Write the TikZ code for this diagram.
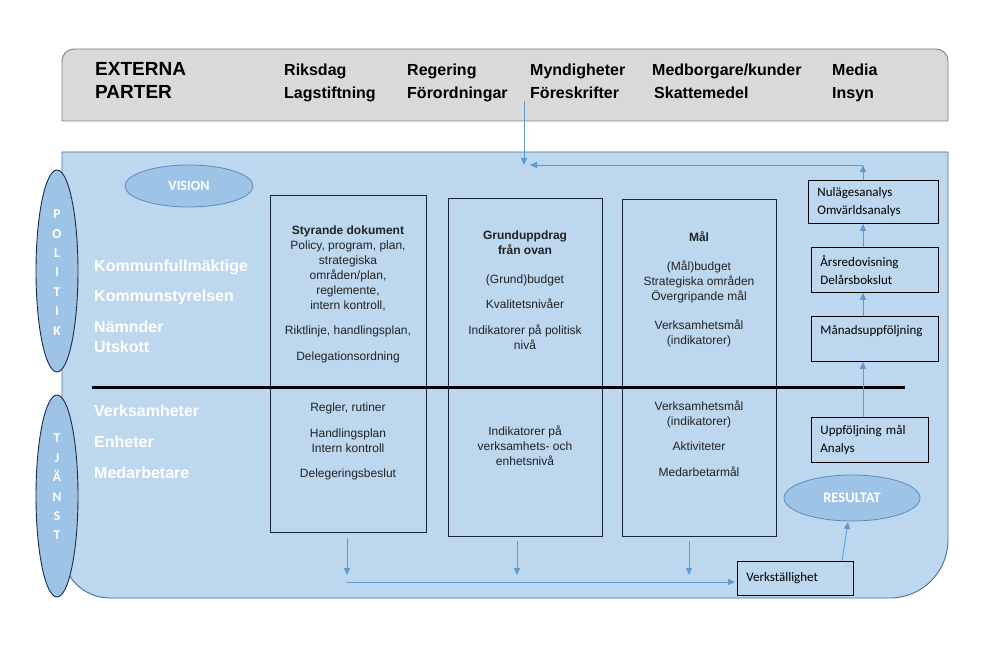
\documentclass[tikz,border=0pt]{standalone}
\usepackage{fontspec}
\setmainfont{Liberation Sans}
\newfontfamily\calfont{Carlito}
\usetikzlibrary{shapes.geometric,arrows.meta}
\definecolor{panelfill}{HTML}{BDD7EE}
\definecolor{panelline}{HTML}{41719C}
\definecolor{hdrfill}{HTML}{D9D9D9}
\definecolor{hdrline}{HTML}{808080}
\definecolor{ellfill}{HTML}{9DC3E6}
\definecolor{elldark}{HTML}{1F2A44}
\definecolor{ellsoft}{HTML}{5A8AC0}
\definecolor{arrcol}{HTML}{5B9BD5}
\definecolor{boxline}{HTML}{1B2433}
\definecolor{txtcol}{HTML}{222222}
\begin{document}
\begin{tikzpicture}[x=1pt,y=-1pt,
  tbox/.style={draw=boxline, line width=0.9pt, anchor=north west, inner sep=0},
  txt/.style={align=center, font=\fontsize{12}{15}\selectfont, text=txtcol, inner sep=0},
  lab/.style={anchor=base west, inner sep=0, font=\bfseries\fontsize{16}{19}\selectfont, text=white},
  hd/.style={anchor=base west, inner sep=0, font=\bfseries\fontsize{16}{19}\selectfont, text=black},
  rbox/.style={draw=black, line width=0.8pt, anchor=north west, align=left, inner xsep=9pt, inner ysep=0, font=\calfont\fontsize{13}{18}\selectfont},
  arr/.style={draw=arrcol, line width=0.8pt, -{Triangle[length=7pt,width=6pt]}},
  oval/.style={ellipse, fill=ellfill, inner sep=0},
  letters/.style={align=center, inner sep=0, text=white, font=\calfont\bfseries\fontsize{13.5}{19.4}\selectfont}
]
\useasboundingbox (0,0) rectangle (993,658);

% header
\node[minimum width=886, minimum height=72, inner sep=0] (hdr) at (505,85) {};
\draw[fill=hdrfill, draw=hdrline, line width=0.9pt]
  (62,121) -- (62,61) .. controls (62,54.4) and (67.4,49) .. (74,49)
  -- (936,49) .. controls (942.6,49) and (948,54.4) .. (948,61) -- (948,121) -- cycle;
\node[hd, font=\bfseries\fontsize{19}{22}\selectfont] (ext1) at (95,76) {EXTERNA};
\node[hd, font=\bfseries\fontsize{19}{22}\selectfont] (ext2) at (95,99) {PARTER};
\node[hd] (h1a) at (284,76) {Riksdag};
\node[hd] (h1b) at (284,99) {Lagstiftning};
\node[hd] (h2a) at (407,76) {Regering};
\node[hd] (h2b) at (407,99) {Förordningar};
\node[hd] (h3a) at (530,76) {Myndigheter};
\node[hd] (h3b) at (530,99) {Föreskrifter};
\node[hd] (h4a) at (652,76) {Medborgare/kunder};
\node[hd] (h4b) at (654,99) {Skattemedel};
\node[hd] (h5a) at (832,76) {Media};
\node[hd] (h5b) at (832,99) {Insyn};

% main panel
\node[minimum width=886, minimum height=446, inner sep=0] (panel) at (505,375) {};
\draw[fill=panelfill, draw=panelline, line width=0.9pt]
  (62,152) -- (948,152) -- (948,540) .. controls (948,572) and (922,598) .. (890,598)
  -- (110,598) .. controls (83.5,598) and (62,576.5) .. (62,550) -- cycle;

% side ellipses
\node[oval, draw=elldark, line width=0.9pt, minimum width=42, minimum height=202] (pol) at (57,271) {};
\node[letters] (poltxt) at (57,272.5) {P\\O\\L\\I\\T\\I\\K};
\node[oval, draw=elldark, line width=0.9pt, minimum width=42, minimum height=202] (tja) at (57,496) {};
\node[letters] (tjatxt) at (57,487) {T\\J\\Ä\\N\\S\\T};

% vision / resultat
\node[oval, draw=ellsoft, line width=0.8pt, minimum width=128, minimum height=42,
  text=white, font=\calfont\bfseries\fontsize{14}{16}\selectfont] (vis) at (189,186) {VISION};
\node[oval, draw=ellsoft, line width=0.8pt, minimum width=136, minimum height=46,
  text=white, font=\calfont\bfseries\fontsize{14.5}{16}\selectfont] (res) at (852,498) {RESULTAT};

% left labels
\node[lab] (l1) at (94,271) {Kommunfullmäktige};
\node[lab] (l2) at (94,301) {Kommunstyrelsen};
\node[lab] (l3) at (94,332) {Nämnder};
\node[lab] (l4) at (94,352) {Utskott};
\node[lab] (l5) at (94,416) {Verksamheter};
\node[lab] (l6) at (94,447) {Enheter};
\node[lab] (l7) at (94,478) {Medarbetare};

% three column boxes
\node[tbox, minimum width=156, minimum height=337] (box1) at (270,195) {};
\node[tbox, minimum width=154, minimum height=338] (box2) at (448,198) {};
\node[tbox, minimum width=154, minimum height=337] (box3) at (622,199) {};

% divider
\coordinate (dl) at (92,387.5);
\coordinate (dr) at (905,387.5);
\draw[line width=3pt, black] (dl) -- (dr);

% column texts
\node[txt] (t1u) at (348,294.5) {\textbf{Styrande dokument}\\Policy, program, plan,\\strategiska\\områden/plan,\\reglemente,\\intern kontroll,\\[10pt]Riktlinje, handlingsplan,\\[11pt]Delegationsordning};
\node[txt] (t1l) at (348,441) {Regler, rutiner\\[11pt]Handlingsplan\\Intern kontroll\\[10pt]Delegeringsbeslut};
\node[txt] (t2u) at (525,290.5) {\textbf{Grunduppdrag}\\\textbf{från ovan}\\[14pt](Grund)budget\\[10pt]Kvalitetsnivåer\\[11pt]Indikatorer på politisk\\nivå};
\node[txt] (t2l) at (525,445.5) {Indikatorer på\\verksamhets- och\\enhetsnivå};
\node[txt] (t3u) at (699,289) {\textbf{Mål}\\[14pt](Mål)budget\\Strategiska områden\\Övergripande mål\\[14pt]Verksamhetsmål\\(indikatorer)};
\node[txt] (t3l) at (699,439) {Verksamhetsmål\\(indikatorer)\\[10pt]Aktiviteter\\[11pt]Medarbetarmål};

% right column boxes
\node[rbox, text width=112, minimum height=43] (nul) at (808,180) {Nulägesanalys\\Omvärldsanalys};
\node[rbox, text width=109, minimum height=45] (ars) at (811,247) {Årsredovisning\\Delårsbokslut};
\node[rbox, text width=109, minimum height=45] (man) at (811,316) {Månadsuppföljning\\\mbox{}};
\node[rbox, text width=99, minimum height=45] (upp) at (811,417) {Uppföljning mål\\Analys};
\node[rbox, text width=98, minimum height=34] (verk) at (737,561) {Verkställighet};

% connectors
\coordinate (hin) at (524,101);
\coordinate (hout) at (524,165);
\coordinate (c1) at (863,165);
\coordinate (c1end) at (530,165);
\draw[arr] (hin) -- (hout);
\draw[arr] (nul.north -| c1) -- (c1);
\draw[arr] (c1) -- (c1end);
\draw[arr] (ars.north -| c1) -- (nul.south -| c1);
\draw[arr] (man.north -| c1) -- (ars.south -| c1);
\draw[arr] (upp.north -| c1) -- (man.south -| c1);

\coordinate (m1) at (347,575);
\coordinate (m2) at (517,575);
\coordinate (m3) at (689,575);
\draw[arr, shorten <=5pt] (box1.south -| m1) -- (m1);
\draw[arr, shorten <=4pt] (box2.south -| m2) -- (m2);
\draw[arr, shorten <=4pt] (box3.south -| m3) -- (m3);
\coordinate (h0) at (347,582);
\draw[arr, shorten >=2pt] (h0) -- (h0 -| verk.west);
\coordinate (vk) at (842,561);
\coordinate (rs) at (848,522);
\draw[arr] (vk) -- (rs);
\end{tikzpicture}
\end{document}
